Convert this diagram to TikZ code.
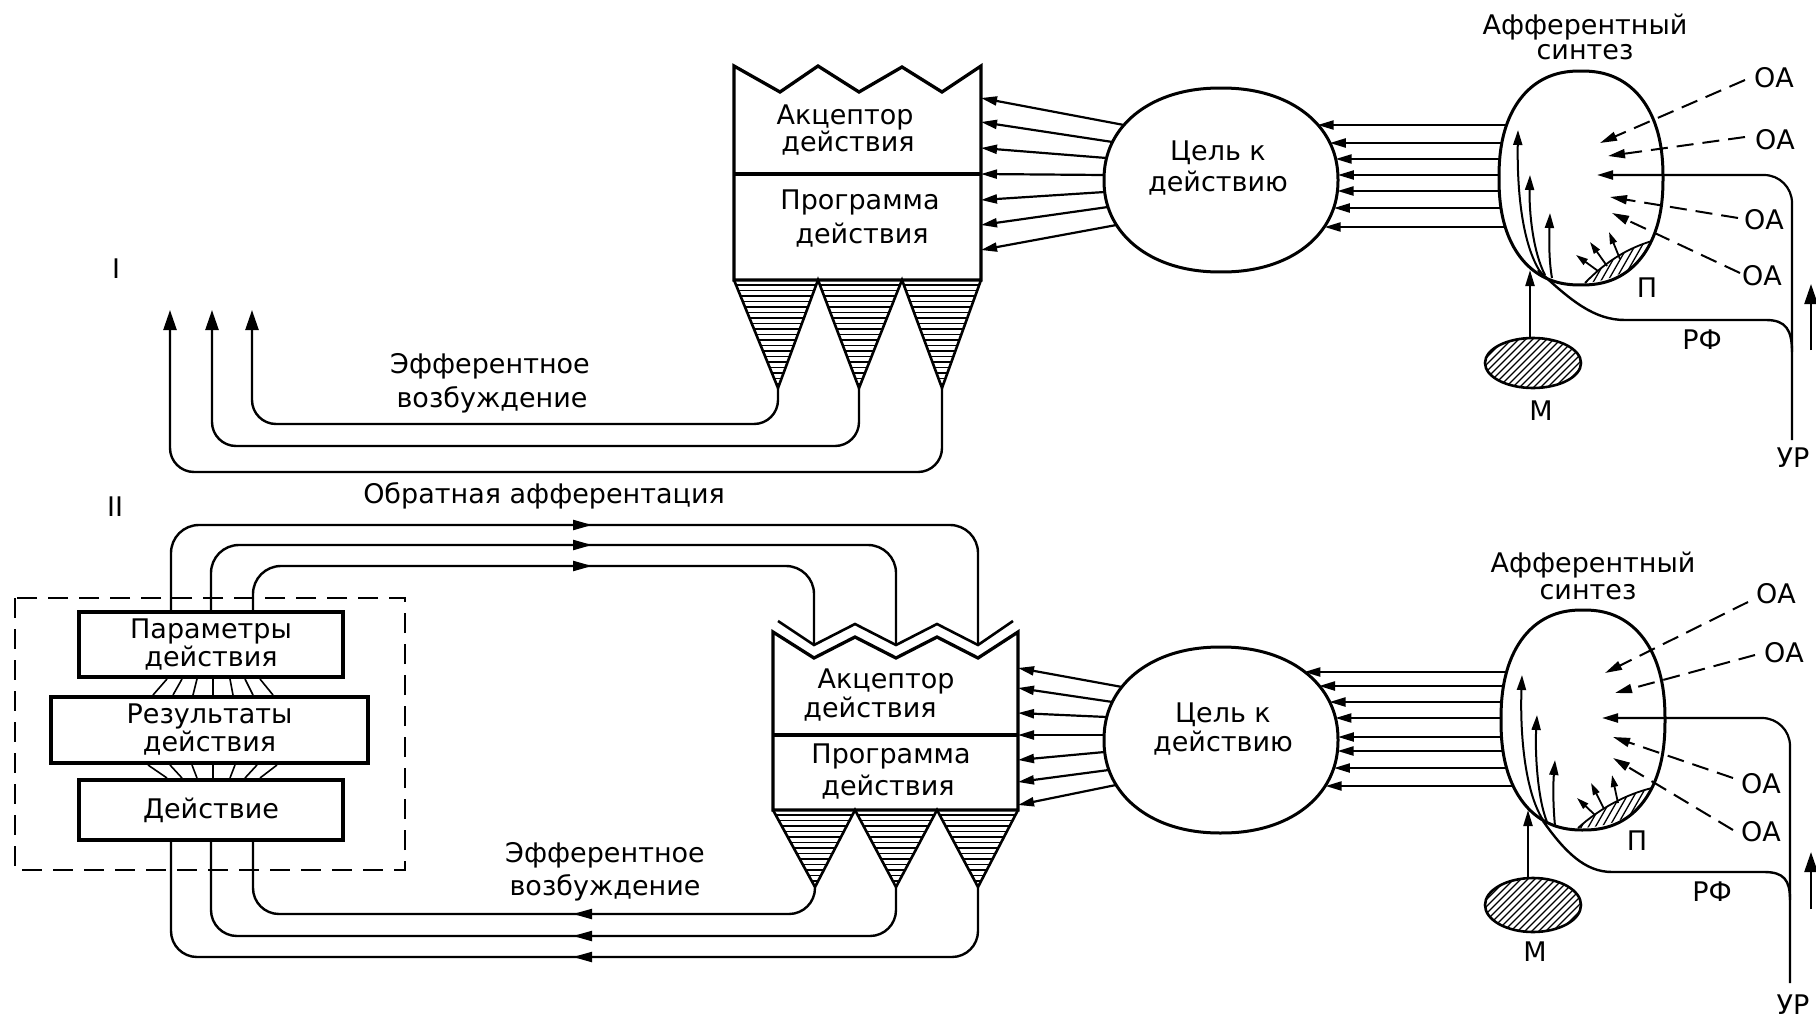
\documentclass[tikz,border=0pt]{standalone}
\usepackage{fontspec}
\setmainfont{DejaVu Sans}
\usetikzlibrary{arrows.meta}
\begin{document}
\begin{tikzpicture}[x=1pt,y=-1pt,line join=miter,
  ln/.style={line width=2.4pt},
  boxline/.style={line width=3.3pt},
  arr/.style={line width=2.2pt,-{Triangle[length=16pt,width=9pt]}},
  uparr/.style={line width=2.4pt,-{Triangle[length=20pt,width=13pt]}},
  midarr/.style={line width=2.2pt,-{Triangle[length=19pt,width=10pt]}},
  inarr/.style={line width=2pt,-{Triangle[length=15pt,width=9pt]}},
  smallarr/.style={line width=1.8pt,-{Triangle[length=12pt,width=7pt]}},
  darr/.style={line width=2pt,dash pattern=on 17pt off 9pt,-{Triangle[length=17pt,width=9pt]}},
  hatch/.style={line width=1.3pt},
  lbl/.style={font=\fontsize{27}{28}\selectfont,inner sep=0pt,align=center},
  pbox/.style={draw,line width=3.5pt,inner sep=0pt,align=center,font=\fontsize{27}{28}\selectfont},
]
\useasboundingbox (0,0) rectangle (1816,1020);
\fill[white] (0,0) rectangle (1816,1020);

%================ PART I =================
\draw[boxline] (981,66) -- (981,280) -- (734,280) -- (734,66) -- (780,92) -- (818,66) -- (859,92) -- (902,67) -- (942,92) -- cycle;
\draw[boxline] (734,174) -- (981,174);
\begin{scope}
\clip (734,280) -- (778,388) -- (818,280) -- (859,388) -- (902,280) -- (942,388) -- (981,280) -- cycle;
\foreach \yy in {285,290.5,...,392} \draw[hatch] (720,\yy) -- (1000,\yy);
\end{scope}
\draw[line width=2.6pt] (734,280) -- (778,388) -- (818,280) -- (859,388) -- (902,280) -- (942,388) -- (981,280);
\node[lbl] (acc1a) at (845,117) {Акцептор};
\node[lbl] (acc1b) at (848,143) {действия};
\node[lbl] (prg1a) at (860,202) {Программа};
\node[lbl] (prg1b) at (862,235) {действия};

% goal
\draw[line width=3pt] plot[domain=0.5:360.5,samples=241,variable=\t]
  ({1221+117*cos(\t)*exp(-0.0698*ln(abs(cos(\t))))},{180+92*sin(\t)*exp(-0.0698*ln(abs(sin(\t))))}) -- cycle;
\node[lbl] (goal1a) at (1218,153) {Цель к};
\node[lbl] (goal1b) at (1218,183) {действию};

\foreach \ty/\hy in {125/98,142/122,158/148,175/174,192/200,207/225,225/250}{
  \pgfmathsetmacro\xt{1221-117*(1-abs((\ty-180)/92)^2.15)^(0.4651)}
  \draw[arr] (\xt,\ty) -- (981,\hy);
}

% afferent synthesis oval
\draw[line width=3pt] plot[domain=0.5:360.5,samples=241,variable=\t]
  ({1581+82*cos(\t)*exp(-0.1304*ln(abs(cos(\t))))},{178+107*sin(\t)*exp(-0.1304*ln(abs(sin(\t))))}) -- cycle;
\node[lbl] (aff1a) at (1585,27) {Афферентный};
\node[lbl] (aff1b) at (1585,52) {синтез};

\foreach \y in {125,143,159,175,191,208,227}{
  \pgfmathsetmacro\xa{1581-82*(1-abs((\y-178.5)/107)^2.3)^(0.4348)}
  \pgfmathsetmacro\xb{1221+117*(1-abs((\y-180.5)/92)^2.15)^(0.4651)}
  \draw[arr] (\xa,\y) -- (\xb,\y);
}

% OA
\draw[darr] (1745,80) -- (1600,143);
\draw[darr] (1745,137) -- (1608,156);
\draw[darr] (1738,218) -- (1610,197);
\draw[darr] (1740,273) -- (1612,213);
\node[lbl] (oa1) at (1774,78) {ОА};
\node[lbl] (oa2) at (1775,140) {ОА};
\node[lbl] (oa3) at (1764,220) {ОА};
\node[lbl] (oa4) at (1762,276) {ОА};

% UR and RF
\draw[arr,rounded corners=28pt] (1792,440) -- (1792,175) -- (1597,175);
\draw[ln] (1792,352) .. controls (1792,330) and (1786,320) .. (1766,320) -- (1625,320) .. controls (1595,320) and (1572,302) .. (1538,270);
\node[lbl] (ur1) at (1793,458) {УР};
\node[lbl] (rf1) at (1702,340) {РФ};
\draw[uparr] (1811,350) -- (1811,284);

\draw[inarr] (1541,273) .. controls (1522,245) and (1517,190) .. (1518,130);
\draw[inarr] (1545,275) .. controls (1533,252) and (1529,212) .. (1530,175);
\draw[inarr] (1552,278) .. controls (1549,262) and (1549,240) .. (1550,213);

% M
\begin{scope}
\clip (1533,363) ellipse [x radius=48pt, y radius=25pt];
\foreach \i in {-80,-73,...,80} \draw[hatch] (1533+\i-40,403) -- (1533+\i+40,323);
\end{scope}
\draw[line width=2.6pt] (1533,363) ellipse [x radius=48pt, y radius=25pt];
\draw[arr] (1530,338) -- (1530,270);
\node[lbl] (m1) at (1541,411) {М};

% P crescent
\begin{scope}
\clip (1585,283) .. controls (1605,262) and (1628,248) .. (1652,241) .. controls (1645,262) and (1620,280) .. (1585,283) -- cycle;
\foreach \i in {-60,-53,...,90} \draw[hatch] (1600+\i-20,300) -- (1600+\i+20,230);
\end{scope}
\draw[line width=1.8pt] (1585,283) .. controls (1605,262) and (1628,248) .. (1652,241);
\draw[smallarr] (1598,271) -- (1576,255);
\draw[smallarr] (1607,266) -- (1590,242);
\draw[smallarr] (1620,259) -- (1609,232);
\node[lbl] (p1) at (1647,288) {П};

% efferent excitation I
\draw[uparr,rounded corners=24pt] (778,388) -- (778,424) -- (252,424) -- (252,310);
\draw[uparr,rounded corners=24pt] (859,388) -- (859,446) -- (212,446) -- (212,310);
\draw[uparr,rounded corners=24pt] (942,388) -- (942,472) -- (170,472) -- (170,310);
\node[lbl] (eff1a) at (490,366) {Эфферентное};
\node[lbl] (eff1b) at (492,400) {возбуждение};
\node[lbl] (rI) at (116,269) {I};

%================ PART II =================
\node[lbl] (rII) at (115,507) {II};
\node[lbl] (obr) at (544,496) {Обратная афферентация};

\draw[line width=2.2pt,dash pattern=on 20pt off 11pt] (15,598) rectangle (405,870);
\node[pbox,minimum width=264pt,minimum height=65pt] (par) at (211,644.5) {Параметры\\действия};
\node[pbox,minimum width=317pt,minimum height=66pt] (res) at (209.5,730) {Результаты\\действия};
\node[pbox,minimum width=264pt,minimum height=60pt] (act) at (211,810) {Действие};
\foreach \a/\b in {167/153,182/173,197/193,213/213,230/233,245/253,260/273}
  \draw[line width=1.6pt] (\a,679) -- (\b,695);
\foreach \a/\b in {148/167,170/182,192/197,213/213,235/230,257/245,277/260}
  \draw[line width=1.6pt] (\a,765) -- (\b,778);

% acceptor II
\draw[boxline] (1018,632) -- (1018,810) -- (773,810) -- (773,632) -- (814,658) -- (855,637) -- (896,658) -- (937,637) -- (978,658) -- cycle;
\draw[line width=2.6pt] (778,621) -- (814,645) -- (855,624) -- (896,645) -- (937,624) -- (978,645) -- (1013,621);
\draw[boxline] (773,735) -- (1018,735);
\begin{scope}
\clip (773,810) -- (815,887) -- (855,810) -- (896,887) -- (937,810) -- (978,887) -- (1018,810) -- cycle;
\foreach \yy in {815,820.5,...,892} \draw[hatch] (760,\yy) -- (1030,\yy);
\end{scope}
\draw[line width=2.6pt] (773,810) -- (815,887) -- (855,810) -- (896,887) -- (937,810) -- (978,887) -- (1018,810);
\node[lbl] (acc2a) at (886,681) {Акцептор};
\node[lbl] (acc2b) at (870,709) {действия};
\node[lbl] (prg2a) at (891,756) {Программа};
\node[lbl] (prg2b) at (888,787) {действия};

% feedback
\draw[ln,rounded corners=28pt] (171,612) -- (171,525) -- (978,525) -- (978,645);
\draw[ln,rounded corners=28pt] (211,612) -- (211,545) -- (896,545) -- (896,645);
\draw[ln,rounded corners=28pt] (253,612) -- (253,566) -- (814,566) -- (814,645);
\draw[midarr] (560,525) -- (592,525);
\draw[midarr] (560,545) -- (592,545);
\draw[midarr] (560,566) -- (592,566);

% efferent II
\draw[ln,rounded corners=26pt] (815,887) -- (815,914) -- (253,914) -- (253,840);
\draw[ln,rounded corners=26pt] (896,887) -- (896,936) -- (211,936) -- (211,840);
\draw[ln,rounded corners=26pt] (978,887) -- (978,957) -- (171,957) -- (171,840);
\draw[midarr] (605,914) -- (573,914);
\draw[midarr] (605,936) -- (573,936);
\draw[midarr] (605,957) -- (573,957);
\node[lbl] (eff2a) at (605,855) {Эфферентное};
\node[lbl] (eff2b) at (605,888) {возбуждение};

% goal II
\draw[line width=3pt] plot[domain=0.5:360.5,samples=241,variable=\t]
  ({1221+117*cos(\t)*exp(-0.0698*ln(abs(cos(\t))))},{740+93*sin(\t)*exp(-0.0698*ln(abs(sin(\t))))}) -- cycle;
\node[lbl] (goal2a) at (1223,715) {Цель к};
\node[lbl] (goal2b) at (1223,743) {действию};
\foreach \ty/\hy in {687/668,702/688,717/713,735/735,752/760,770/782,785/805}{
  \pgfmathsetmacro\xt{1221-117*(1-abs((\ty-740.5)/93)^2.15)^(0.4651)}
  \draw[arr] (\xt,\ty) -- (1018,\hy);
}

% afferent II
\draw[line width=3pt] plot[domain=0.5:360.5,samples=241,variable=\t]
  ({1583+82*cos(\t)*exp(-0.1304*ln(abs(cos(\t))))},{720+110*sin(\t)*exp(-0.1304*ln(abs(sin(\t))))}) -- cycle;
\node[lbl] (aff2a) at (1593,565) {Афферентный};
\node[lbl] (aff2b) at (1588,592) {синтез};
\foreach \y in {672,686,702,718,737,751,768,786}{
  \pgfmathsetmacro\xa{1583-82*(1-abs((\y-720.5)/110)^2.3)^(0.4348)}
  \pgfmathsetmacro\xb{1221+117*(1-abs((\y-740.5)/93)^2.15)^(0.4651)}
  \draw[arr] (\xa,\y) -- (\xb,\y);
}

\draw[darr] (1748,602) -- (1605,673);
\draw[darr] (1755,655) -- (1615,693);
\draw[darr] (1733,778) -- (1613,737);
\draw[darr] (1733,830) -- (1613,758);
\node[lbl] (oa5) at (1776,594) {ОА};
\node[lbl] (oa6) at (1784,653) {ОА};
\node[lbl] (oa7) at (1761,784) {ОА};
\node[lbl] (oa8) at (1761,832) {ОА};

\draw[arr,rounded corners=28pt] (1790,983) -- (1790,718) -- (1602,718);
\draw[ln] (1790,900) .. controls (1790,880) and (1784,872) .. (1764,872) -- (1612,872) .. controls (1585,872) and (1565,852) .. (1543,821);
\node[lbl] (ur2) at (1793,1005) {УР};
\node[lbl] (rf2) at (1712,892) {РФ};
\draw[uparr] (1811,909) -- (1811,852);

\draw[inarr] (1543,820) .. controls (1524,790) and (1520,730) .. (1522,675);
\draw[inarr] (1547,822) .. controls (1537,797) and (1535,750) .. (1537,715);
\draw[inarr] (1555,826) .. controls (1553,805) and (1553,785) .. (1555,760);

\begin{scope}
\clip (1533,905) ellipse [x radius=48pt, y radius=27pt];
\foreach \i in {-80,-73,...,80} \draw[hatch] (1533+\i-40,945) -- (1533+\i+40,865);
\end{scope}
\draw[line width=2.6pt] (1533,905) ellipse [x radius=48pt, y radius=27pt];
\draw[arr] (1528,878) -- (1528,810);
\node[lbl] (m2) at (1535,952) {М};

\begin{scope}
\clip (1578,828) .. controls (1600,808) and (1627,794) .. (1652,788) .. controls (1645,810) and (1620,827) .. (1578,828) -- cycle;
\foreach \i in {-60,-53,...,100} \draw[hatch] (1595+\i-20,845) -- (1595+\i+20,775);
\end{scope}
\draw[line width=1.8pt] (1578,828) .. controls (1600,808) and (1627,794) .. (1652,788);
\draw[smallarr] (1595,815) -- (1577,798);
\draw[smallarr] (1604,809) -- (1591,783);
\draw[smallarr] (1618,803) -- (1612,775);
\node[lbl] (p2) at (1637,841) {П};

\end{tikzpicture}
\end{document}
